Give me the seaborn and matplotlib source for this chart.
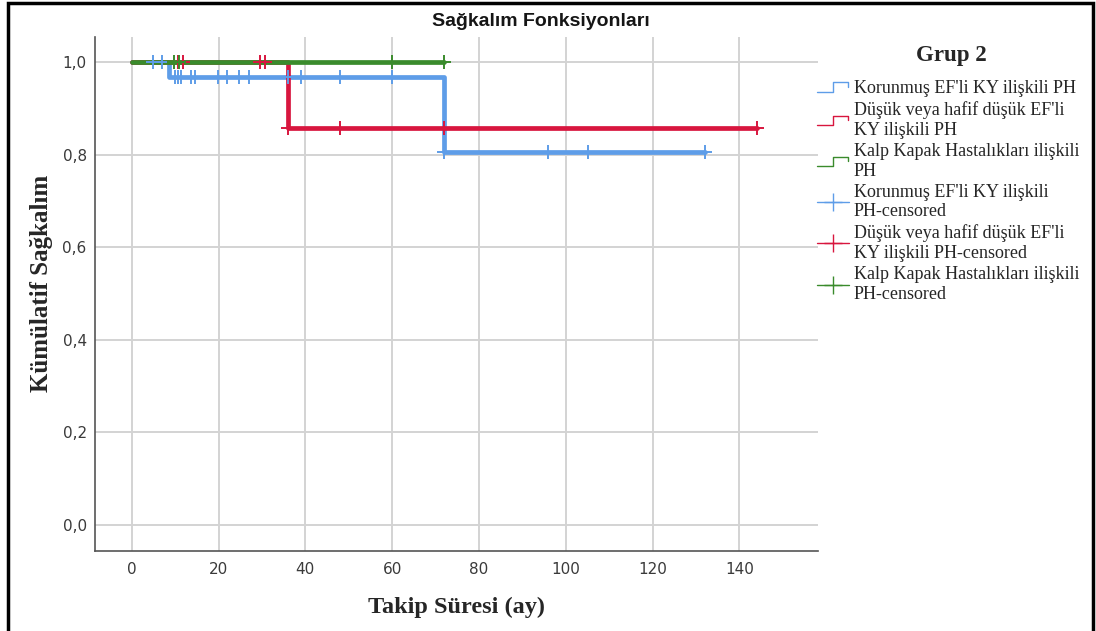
import matplotlib
matplotlib.use("Agg")
import matplotlib.pyplot as plt
import seaborn as sns
from matplotlib.lines import Line2D
from matplotlib.legend_handler import HandlerBase
from matplotlib.patches import Rectangle

# ---------------- data ----------------
series_names = ["Korunmuş EF'li KY ilişkili PH",
                "Düşük veya hafif düşük EF'li\nKY ilişkili PH",
                "Kalp Kapak Hastalıkları ilişkili\nPH"]
censor_names = ["Korunmuş EF'li KY ilişkili\nPH-censored",
                "Düşük veya hafif düşük EF'li\nKY ilişkili PH-censored",
                "Kalp Kapak Hastalıkları ilişkili\nPH-censored"]
colors = ["#5e9de8", "#d8163e", "#3a8b2c"]

korunmus_time = [0, 8.5, 72, 132]
korunmus_surv = [1.0, 0.967, 0.806, 0.806]
korunmus_cens_time = [5, 7, 10, 10.6, 11.4, 13.7, 14.5, 19.8, 22, 24.7, 27, 36, 39, 48, 60,
                      72, 96, 105, 132]
korunmus_cens_surv = [1.0, 1.0, 0.967, 0.967, 0.967, 0.967, 0.967, 0.967, 0.967, 0.967, 0.967,
                      0.967, 0.967, 0.967, 0.967, 0.806, 0.806, 0.806, 0.806]

dusuk_time = [0, 36, 144]
dusuk_surv = [1.0, 0.857, 0.857]
dusuk_cens_time = [10.6, 11.7, 29.6, 30.8, 36, 48, 72, 144]
dusuk_cens_surv = [1.0, 1.0, 1.0, 1.0, 0.857, 0.857, 0.857, 0.857]

kalp_time = [0, 72]
kalp_surv = [1.0, 1.0]
kalp_cens_time = [9.8, 10.8, 60, 72]
kalp_cens_surv = [1.0, 1.0, 1.0, 1.0]

x_ticks = [0, 20, 40, 60, 80, 100, 120, 140]
y_ticks = [0.0, 0.2, 0.4, 0.6, 0.8, 1.0]
y_tick_labels = ["0,0", "0,2", "0,4", "0,6", "0,8", "1,0"]

title = "Sağkalım Fonksiyonları"
x_label = "Takip Süresi (ay)"
y_label = "Kümülatif Sağkalım"
legend_title = "Grup 2"

# ---------------- plot ----------------
sns.set_style("white")
plt.rcParams["font.family"] = ["DejaVu Sans"]

W, H = 1096, 631
fig = plt.figure(figsize=(W / 100, H / 100), dpi=100)
ax = fig.add_axes([95 / W, 1 - 551 / H, 723 / W, 514 / H])

curves = [(korunmus_time, korunmus_surv), (dusuk_time, dusuk_surv), (kalp_time, kalp_surv)]
cens = [(korunmus_cens_time, korunmus_cens_surv), (dusuk_cens_time, dusuk_cens_surv),
        (kalp_cens_time, kalp_cens_surv)]

for (t, s), c in zip(curves, colors):
    sns.lineplot(x=t, y=s, drawstyle="steps-post", estimator=None, sort=False,
                 color=c, linewidth=3.4, ax=ax, zorder=3)
for (t, s), c in zip(cens, colors):
    sns.scatterplot(x=t, y=s, marker="+", s=90, color=c, linewidth=1.4, ax=ax, zorder=4)

ax.set_xlim(-8.46, 158.1)
ax.set_ylim(-0.056, 1.054)
ax.set_xticks(x_ticks)
ax.set_xticklabels([str(v) for v in x_ticks])
ax.set_yticks(y_ticks)
ax.set_yticklabels(y_tick_labels)
ax.tick_params(axis="both", length=0, labelsize=11, labelcolor="#3a3a3a")
ax.tick_params(axis="x", pad=8)
ax.tick_params(axis="y", pad=6)
ax.grid(True, color="#d3d3d3", linewidth=1.4, zorder=0)
ax.set_axisbelow(True)
for side in ["top", "right"]:
    ax.spines[side].set_visible(False)
for side in ["left", "bottom"]:
    ax.spines[side].set_color("#555555")
    ax.spines[side].set_linewidth(1.2)

ax.set_xlabel(x_label, fontsize=17.5, fontweight="bold", family="Liberation Serif")
ax.xaxis.set_label_coords(0.5, -0.09)
ax.set_ylabel(y_label, fontsize=18, fontweight="bold", family="Liberation Serif")
ax.yaxis.set_label_coords(-0.058, 0.52)

fig.text(541 / W, 1 - 22 / H, title, ha="center", va="center", fontsize=14,
         family="Liberation Sans", fontweight="bold", color="#151515")

fig.text(951 / W, 1 - 55 / H, legend_title, ha="center", va="center", fontsize=16.5,
         family="Liberation Serif", fontweight="bold")


class StepHandler(HandlerBase):
    def create_artists(self, legend, orig_handle, xdescent, ydescent, width, height,
                       fontsize, trans):
        x0, y0 = -xdescent, -ydescent
        xs = [x0, x0 + 0.5 * width, x0 + 0.5 * width, x0 + 0.97 * width, x0 + 0.97 * width]
        ys = [y0 + 0.1 * height, y0 + 0.1 * height, y0 + 0.85 * height,
              y0 + 0.85 * height, y0 + 0.5 * height]
        ln = Line2D(xs, ys, color=orig_handle.get_color(), lw=1.0)
        ln.set_transform(trans)
        return [ln]


class StepProxy(Line2D):
    pass


handles, labels = [], []
handler_map = {}
for name, c in zip(series_names, colors):
    h = StepProxy([], [], color=c)
    handles.append(h)
    labels.append(name)
    handler_map[h] = StepHandler()
for name, c in zip(censor_names, colors):
    h = Line2D([], [], color=c, lw=1.0, marker="+", markersize=13, markeredgewidth=1.0)
    handles.append(h)
    labels.append(name)

leg = fig.legend(handles, labels, handler_map=handler_map, loc="upper left",
                 bbox_to_anchor=(817 / W, 1 - 80 / H), frameon=False,
                 prop={"family": "Liberation Serif", "size": 13},
                 handlelength=1.75, handletextpad=0.3, labelspacing=0.22,
                 borderpad=0, borderaxespad=0)
for t in leg.get_texts():
    t.set_linespacing(1.22)

fig.add_artist(Rectangle((8 / W, -0.05), (1093 - 8) / W, 1.05 - 2.5 / H,
                         transform=fig.transFigure, fill=False, lw=2.5,
                         edgecolor="black"))

fig.savefig("out.png", dpi=100)
